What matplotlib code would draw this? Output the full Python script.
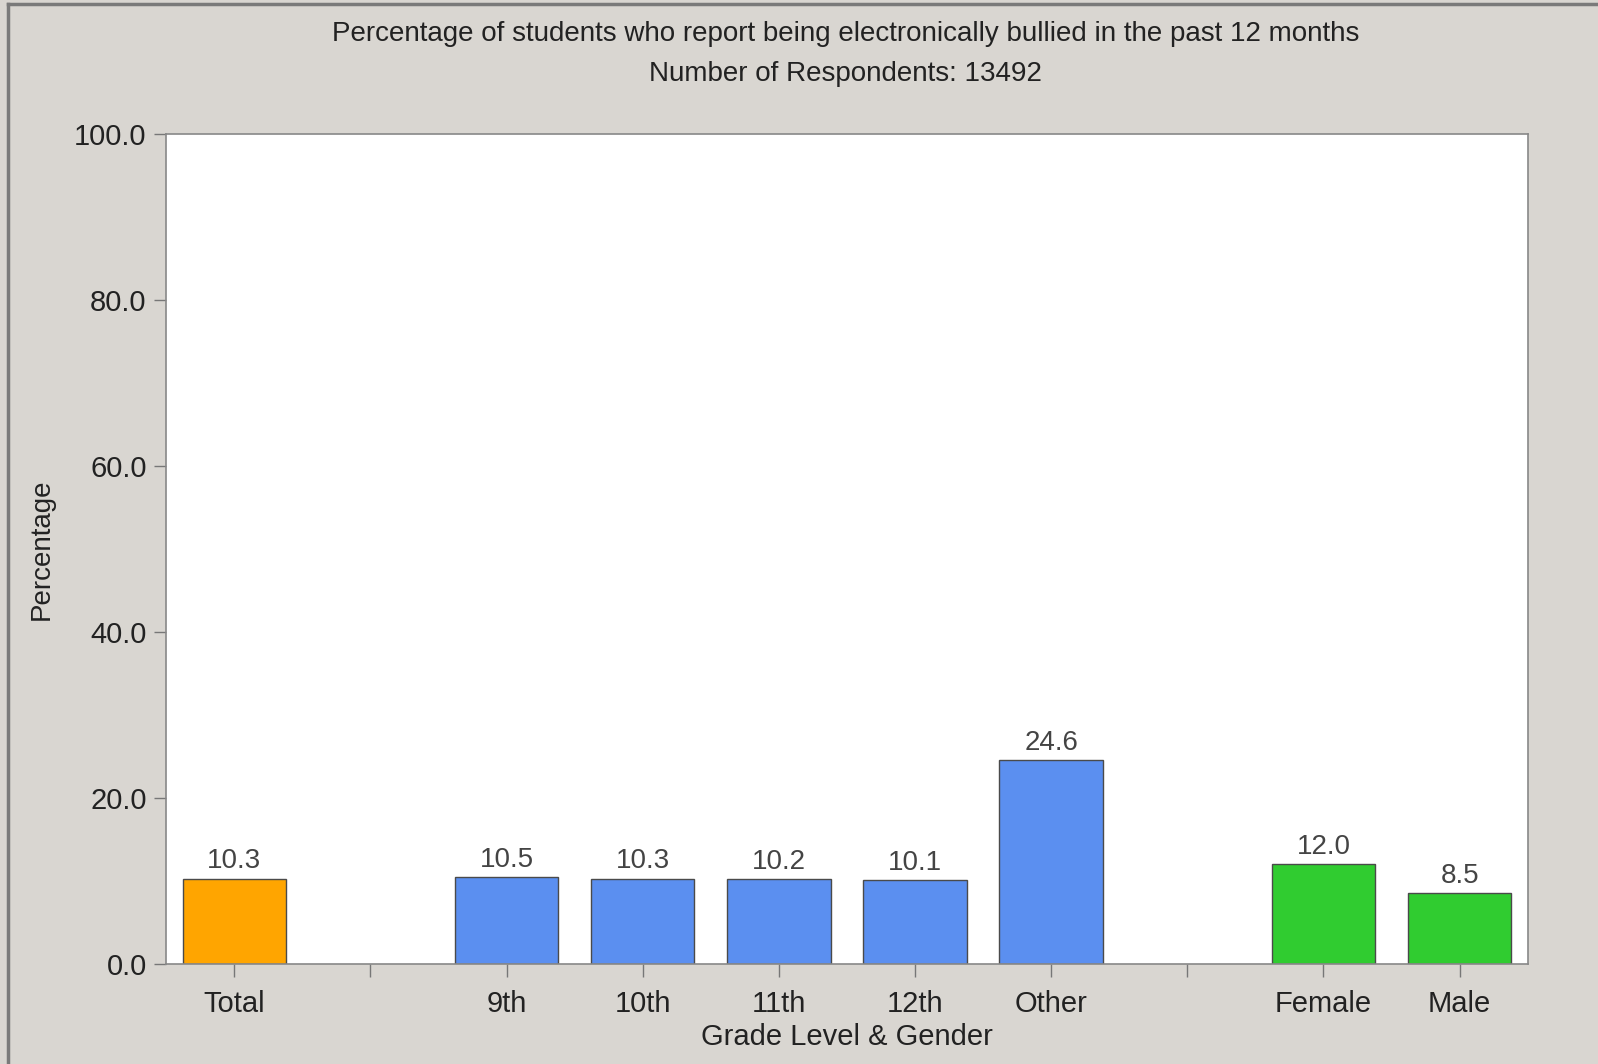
import matplotlib.pyplot as plt
import numpy as np

# data
categories = ["Total", "", "9th", "10th", "11th", "12th", "Other", "", "Female", "Male"]
values = [10.3, None, 10.5, 10.3, 10.2, 10.1, 24.6, None, 12.0, 8.5]
bar_colors = ["#ffa500", None, "#5b8ff0", "#5b8ff0", "#5b8ff0", "#5b8ff0", "#5b8ff0", None, "#30cc30", "#30cc30"]
yticks = [0, 20, 40, 60, 80, 100]

title = "Percentage of students who report being electronically bullied in the past 12 months"
subtitle = "Number of Respondents: 13492"

plt.rcParams['font.family'] = ['Liberation Sans', 'DejaVu Sans']

bg = "#d9d6d1"
fig = plt.figure(figsize=(15.98, 10.64), dpi=100, facecolor=bg)
ax = fig.add_axes([0.104, 0.094, 0.852, 0.780])
ax.set_facecolor("white")

x = np.arange(len(categories))
for xi, v, c in zip(x, values, bar_colors):
    if v is None:
        continue
    ax.bar(xi, v, width=0.76, color=c, edgecolor="#4a4a4a", linewidth=1.0, zorder=2)
    ax.text(xi, v + 0.5, f"{v:.1f}", ha="center", va="bottom", fontsize=20, color="#444444")

ax.set_xlim(-0.5, 9.5)
ax.set_ylim(0, 100)
ax.set_xticks(x)
ax.set_xticklabels(categories, fontsize=21, color="#222222")
ax.set_yticks(yticks)
ax.set_yticklabels([f"{t:.1f}" for t in yticks], fontsize=21, color="#222222")
ax.tick_params(axis="both", direction="out", length=9, width=1, color="#777777")
ax.tick_params(axis="x", pad=10)
ax.tick_params(axis="y", pad=5)

for s in ax.spines.values():
    s.set_color("#888888")
    s.set_linewidth(1.2)

ax.set_xlabel("Grade Level & Gender", fontsize=21, color="#222222", labelpad=3)
ax.set_ylabel("Percentage", fontsize=20, color="#222222", labelpad=14)

fig.text(0.529, 0.968, title, ha="center", va="center", fontsize=20, color="#222222")
fig.text(0.529, 0.930, subtitle, ha="center", va="center", fontsize=20, color="#222222")

# image frame on left and top
fig.add_artist(plt.Line2D([0.005, 0.005], [0.0, 0.996], transform=fig.transFigure,
                          color="#7a7a7a", linewidth=2.5))
fig.add_artist(plt.Line2D([0.005, 1.0], [0.996, 0.996], transform=fig.transFigure,
                          color="#7a7a7a", linewidth=2.5))

fig.savefig("out.png", dpi=100, facecolor=bg)
